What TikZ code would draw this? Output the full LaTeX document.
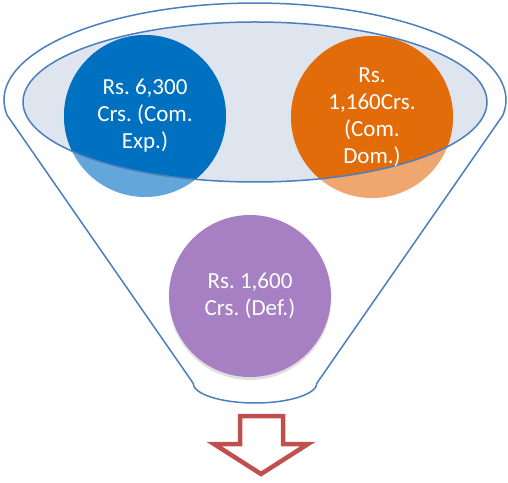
\documentclass[tikz,border=0pt]{standalone}
\usepackage{fontspec}
\setmainfont{Carlito}
\usetikzlibrary{shadows}
\definecolor{rim}{HTML}{4A7EBF}
\definecolor{ellfill}{HTML}{DFE5EE}
\definecolor{bluedark}{HTML}{0070C0}
\definecolor{bluelight}{HTML}{62A6DA}
\definecolor{orangedark}{HTML}{E36C0A}
\definecolor{orangelight}{HTML}{EFA66F}
\definecolor{purple}{HTML}{A680C2}
\definecolor{arrowred}{HTML}{C0504D}
\frenchspacing
\begin{document}
\begin{tikzpicture}[x=1pt,y=1pt,
  rimline/.style={draw=rim, line width=1.5pt},
  ball/.style={circle, minimum size=162pt, inner sep=0pt, draw=none},
  txt/.style={text=white, align=center, font=\fontsize{23}{27}\selectfont}]
\useasboundingbox (0,0) rectangle (508,482);
\fill[white] (0,0) rectangle (508,482);
% funnel body
\coordinate (fl) at (7.1,366.8);
\coordinate (bl) at (193,99);
\coordinate (br) at (317,99);
\filldraw[rimline, fill=white] (fl) arc[start angle=189, end angle=-9, x radius=251, y radius=97]
  -- (br) arc[start angle=0, end angle=-180, x radius=62, y radius=20] -- cycle;
% inner ellipse fill
\fill[ellfill] (255,380) ellipse[x radius=232, y radius=80];
% circles
\node[ball, fill=bluelight] (b1) at (145,366) {};
\node[ball, fill=orangelight] (b2) at (372,365) {};
\begin{scope}
  \clip (255,380) ellipse[x radius=232, y radius=80];
  \fill[bluedark] (b1.center) circle[radius=81];
  \fill[orangedark] (b2.center) circle[radius=81];
\end{scope}
\draw[rimline] (255,380) ellipse[x radius=232, y radius=80];
\node[ball, fill=purple, drop shadow={opacity=0.25, shadow xshift=0pt, shadow yshift=-3pt}] (b3) at (250,186) {};
% texts
\node[txt] at (b1) {Rs. 6,300\\Crs. (Com.\\Exp.)};
\node[txt] at (b2) {Rs.\\1,160Crs.\\(Com.\\Dom.)};
\node[txt] at (b3) {Rs. 1,600\\Crs. (Def.)};
% arrow
\draw[draw=arrowred, line width=4.5pt, line join=miter, miter limit=10]
  (240,66) -- (283,66) -- (283,38) -- (308,38) -- (261,8) -- (214,38) -- (240,38) -- cycle;
\end{tikzpicture}
\end{document}
